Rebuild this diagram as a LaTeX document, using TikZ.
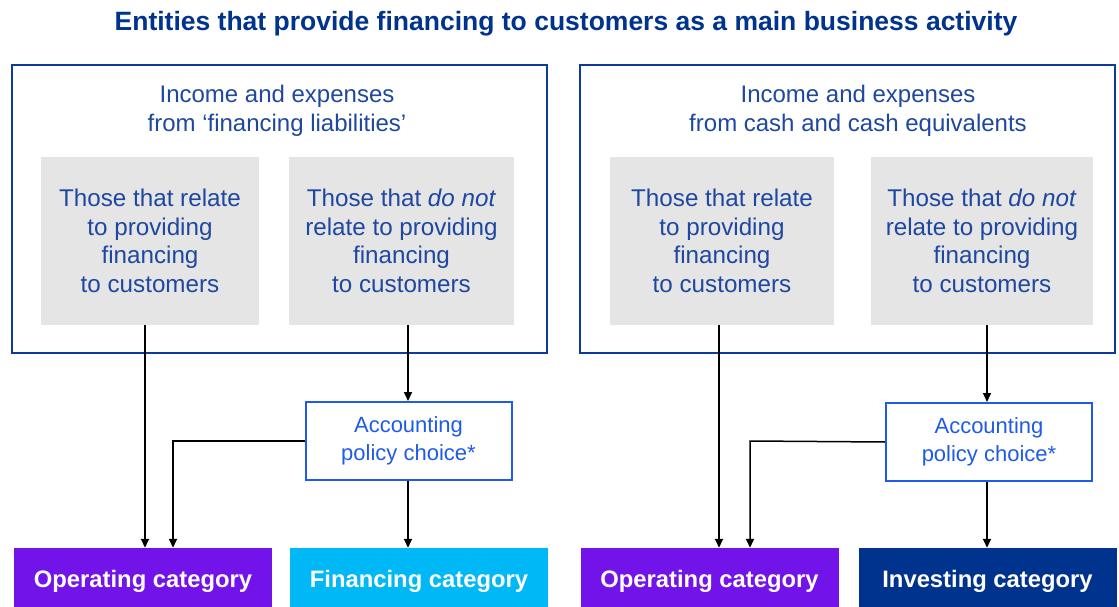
\documentclass[tikz,border=0pt]{standalone}
\usepackage{fontspec}
\setmainfont{Liberation Sans}
\usetikzlibrary{arrows.meta}
\definecolor{navy}{HTML}{00338D}
\definecolor{boxblue}{HTML}{0C3B9C}
\definecolor{txtblue}{HTML}{1E47A0}
\definecolor{polblue}{HTML}{1E5BE8}
\definecolor{graybg}{HTML}{E5E5E5}
\definecolor{purp}{HTML}{7213EA}
\definecolor{cyanc}{HTML}{00B8F5}
\tikzset{
  outerbox/.style={draw=boxblue, line width=2pt},
  graybox/.style={fill=graybg, draw=none, minimum height=168pt, inner sep=0pt},
  graytxt/.style={text=txtblue, font=\fontsize{24.2}{28.6}\selectfont, align=center},
  headtxt/.style={text=txtblue, font=\fontsize{24}{28.5}\selectfont, align=center},
  polbox/.style={draw=polblue, line width=2pt, fill=white, text=polblue, font=\fontsize{22}{28}\selectfont, align=center, minimum width=206pt, minimum height=78pt, inner sep=0pt},
  catbox/.style={minimum width=258pt, minimum height=59pt, inner sep=0pt},
  cattxt/.style={text=white, font=\bfseries\fontsize{23.8}{28}\selectfont},
  arr/.style={line width=1.5pt, -{Triangle[length=9pt,width=8pt]}}
}
\begin{document}
\begin{tikzpicture}[x=1pt,y=-1pt]
\useasboundingbox (0,0) rectangle (1119,607);
% title
\node[text=navy, font=\bfseries\fontsize{26.5}{30}\selectfont] (title) at (566,24) {Entities that provide financing to customers as a main business activity};
% outer boxes
\draw[outerbox] (12,65) rectangle (547,353);
\draw[outerbox] (580,65) rectangle (1115,353);
\node[headtxt] (h1) at (277,111) {Income and expenses\\from ‘financing liabilities’};
\node[headtxt] (h2) at (858,111) {Income and expenses\\from cash and cash equivalents};
% gray boxes
\node[graybox, minimum width=218pt] (g1) at (150,241) {};
\node[graybox, minimum width=225pt] (g2) at (401.5,241) {};
\node[graybox, minimum width=224pt] (g3) at (722,241) {};
\node[graybox, minimum width=222pt] (g4) at (982,241) {};
\node[graytxt] (t1) at (g1) {Those that relate\\to providing\\financing\\to customers};
\node[graytxt] (t2) at (g2) {Those that \textit{do not}\\relate to providing\\financing\\to customers};
\node[graytxt] (t3) at (g3) {Those that relate\\to providing\\financing\\to customers};
\node[graytxt] (t4) at (g4) {Those that \textit{do not}\\relate to providing\\financing\\to customers};
% policy boxes
\node[polbox] (p1) at (408.5,441) {Accounting\\policy choice*};
\node[polbox] (p2) at (989,442) {Accounting\\policy choice*};
% category boxes
\node[catbox, fill=purp] (o1) at (143,577.5) {};
\node[catbox, fill=cyanc] (f1) at (419,577.5) {};
\node[catbox, fill=purp] (o2) at (709.5,577.5) {};
\node[catbox, fill=navy] (i2) at (987.5,577.5) {};
\node[cattxt] (ot1) at ([yshift=-3.5pt]o1.center) {Operating category};
\node[cattxt] (ft1) at ([yshift=-3.5pt]f1.center) {Financing category};
\node[cattxt] (ot2) at ([yshift=-3.5pt]o2.center) {Operating category};
\node[cattxt] (it2) at ([yshift=-3.5pt]i2.center) {Investing category};
% connectors
\coordinate (c1) at (173,441);
\coordinate (c2) at (750,441);
\draw[arr] (g1.south -| 145,0) -- (o1.north -| 145,0);
\draw[arr] (g2.south -| 408,0) -- (p1.north -| 408,0);
\draw[arr] (p1.west) -- (c1) -- (o1.north -| c1);
\draw[arr] (p1.south -| 408,0) -- (f1.north -| 408,0);
\draw[arr] (g3.south -| 719,0) -- (o2.north -| 719,0);
\draw[arr] (g4.south -| 987,0) -- (p2.north -| 987,0);
\draw[arr] (p2.west) -- (c2) -- (o2.north -| c2);
\draw[arr] (p2.south -| 987,0) -- (i2.north -| 987,0);
\end{tikzpicture}
\end{document}
